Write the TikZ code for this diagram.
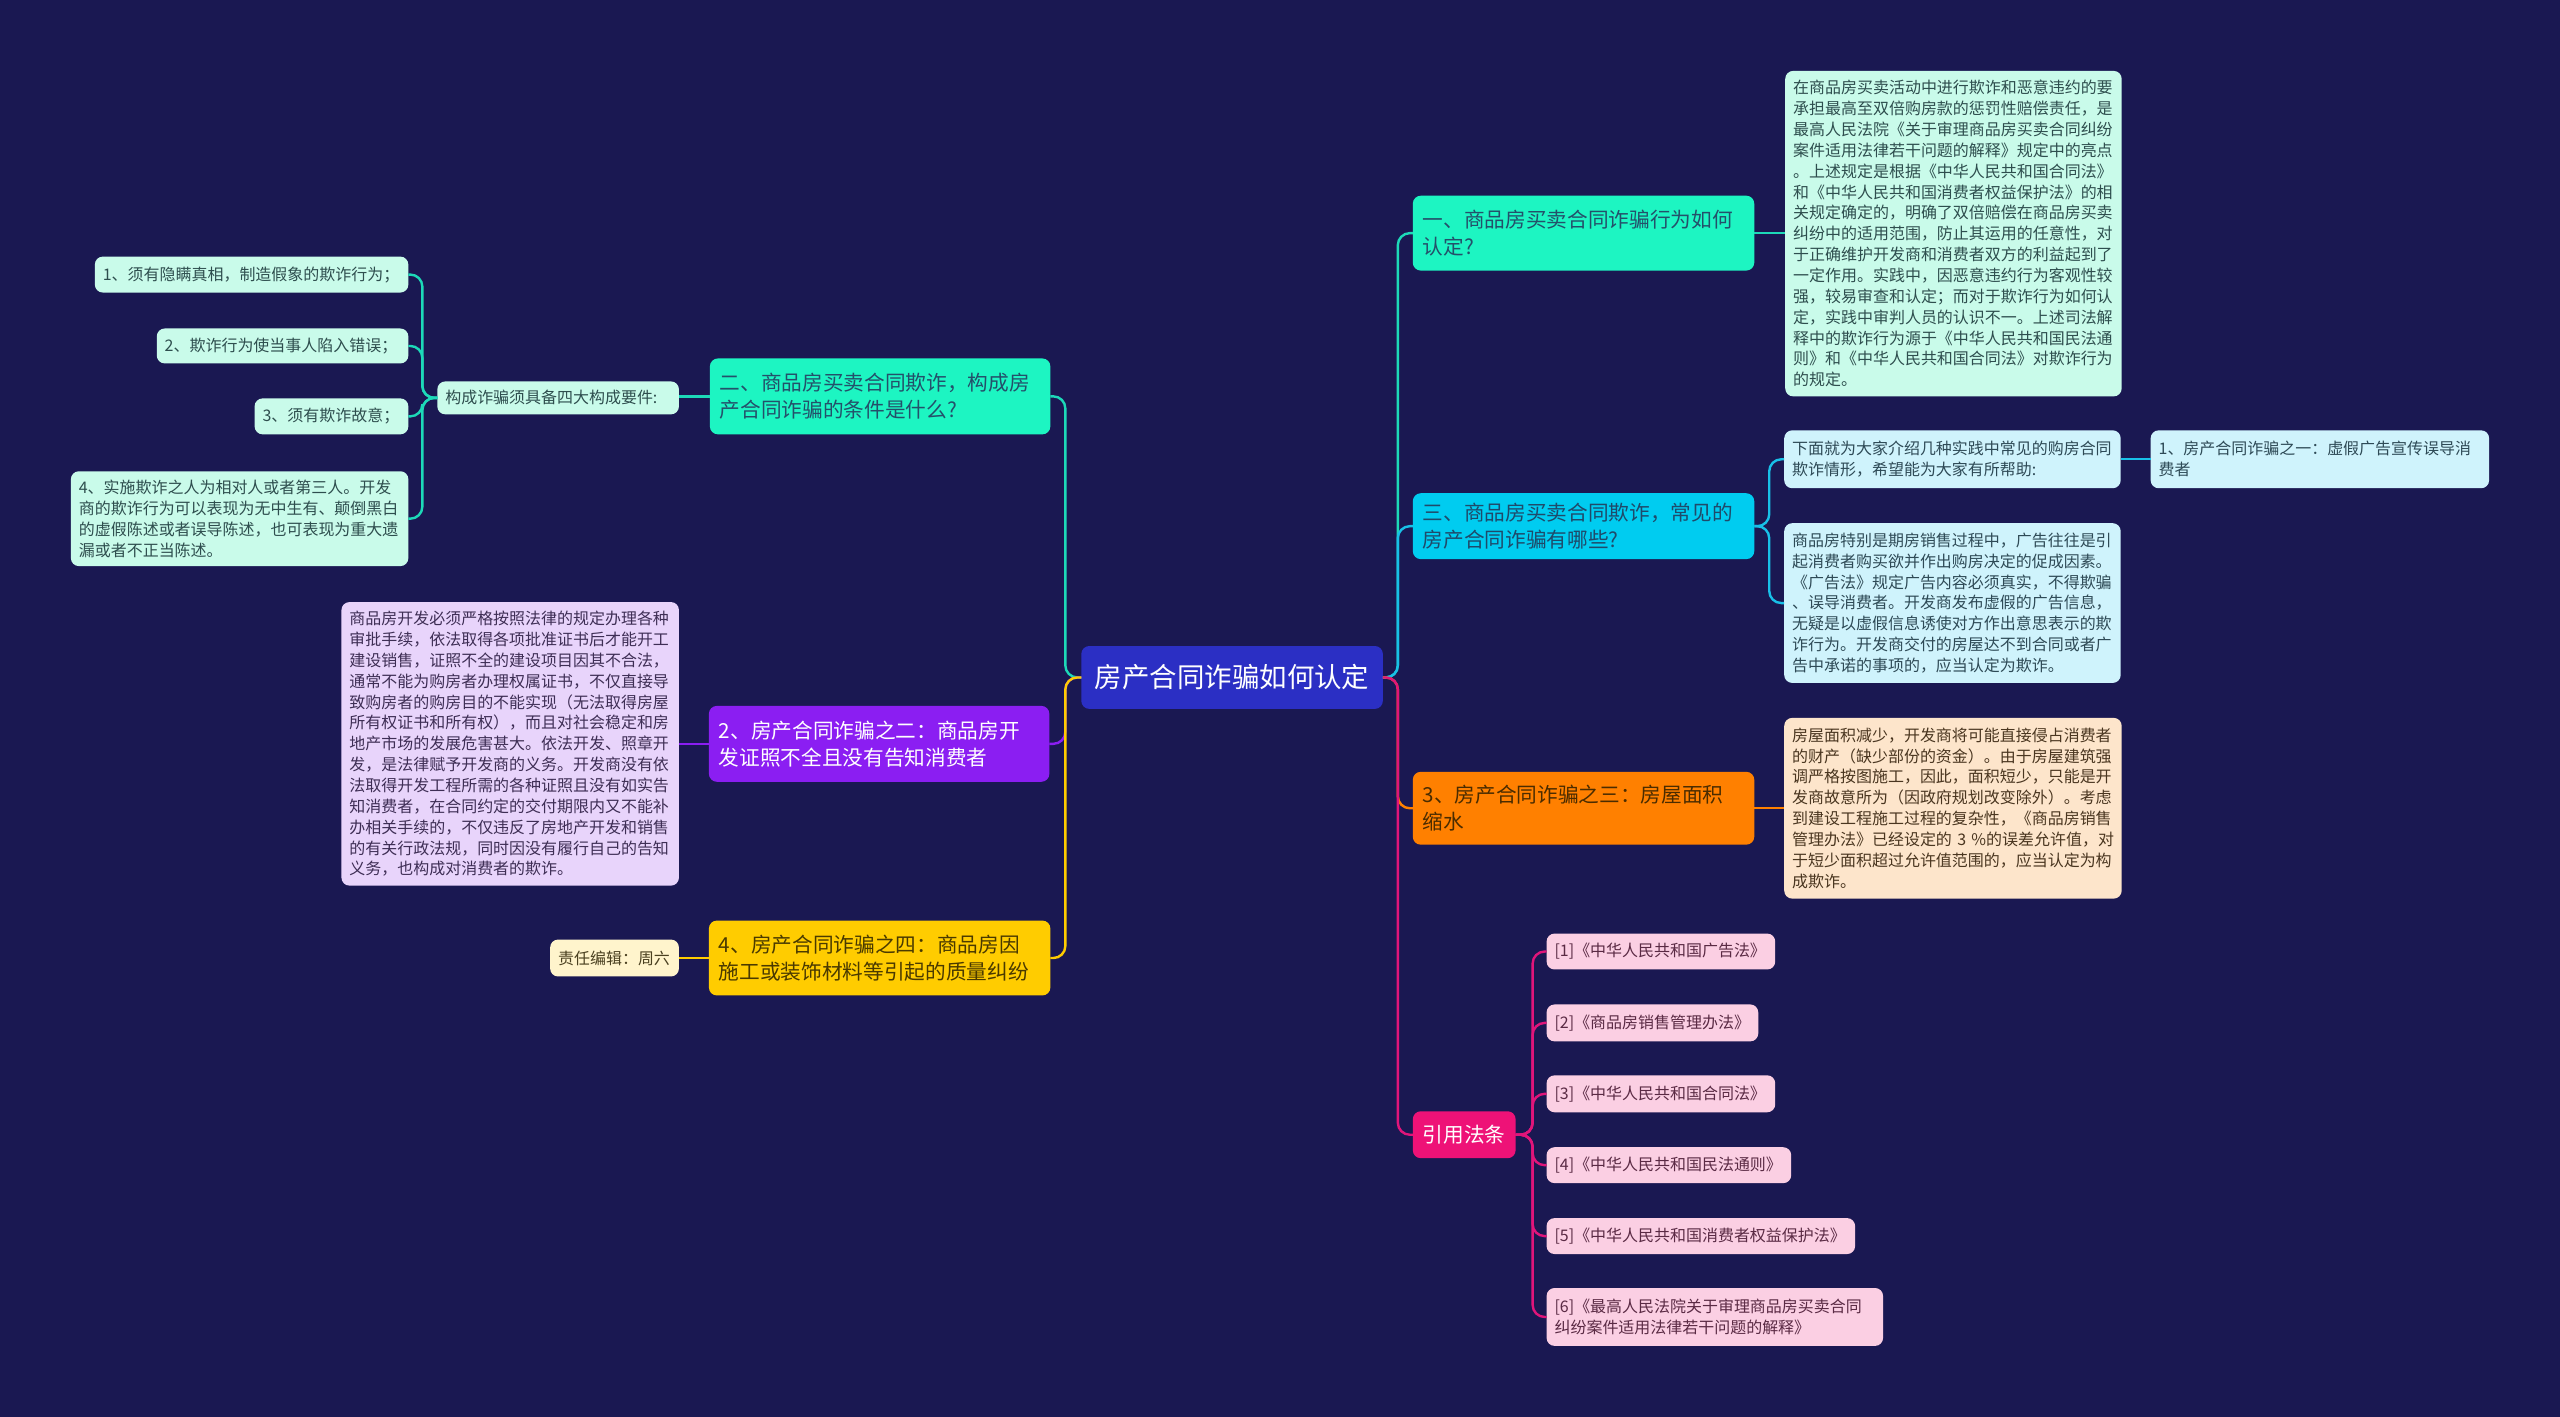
\documentclass[tikz,border=0pt]{standalone}
\usepackage{fontspec}
\setmainfont{Noto Sans CJK SC}
\definecolor{bg}{HTML}{1A1852}
\definecolor{cRoot}{HTML}{2B2FC4}
\definecolor{cAq}{HTML}{1DF5C2}
\definecolor{tAq}{HTML}{24506A}
\definecolor{cCy}{HTML}{00CCF0}
\definecolor{tCy}{HTML}{1F4A6A}
\definecolor{cOr}{HTML}{FF8000}
\definecolor{tOr}{HTML}{4A2C00}
\definecolor{cPu}{HTML}{8B1EF2}
\definecolor{cYe}{HTML}{FFCC00}
\definecolor{tYe}{HTML}{4A3A00}
\definecolor{cPk}{HTML}{EE1277}
\definecolor{lAq}{HTML}{C9FBEA}
\definecolor{tlAq}{HTML}{2E4E4E}
\definecolor{lCy}{HTML}{CFF3FC}
\definecolor{tlCy}{HTML}{2E4A56}
\definecolor{lOr}{HTML}{FDE5CB}
\definecolor{tlOr}{HTML}{4A3620}
\definecolor{lLi}{HTML}{E8D4FB}
\definecolor{tlLi}{HTML}{3E2E55}
\definecolor{lYe}{HTML}{FFF4CC}
\definecolor{tlYe}{HTML}{4A4020}
\definecolor{lPk}{HTML}{FBCFE3}
\definecolor{tlPk}{HTML}{5A2A44}
\definecolor{kAq}{HTML}{1DD9B8}
\definecolor{kCy}{HTML}{18C0E8}
\definecolor{kPk}{HTML}{E0157A}
\begin{document}
\begin{tikzpicture}[x=0.5pt,y=-0.5pt,
  base/.style={rounded corners=4pt, inner ysep=0pt, outer sep=0pt, align=left, anchor=north west},
  small/.style={base, font=\fontsize{8}{10.45}\selectfont, inner xsep=4pt},
  big/.style={base, font=\fontsize{10.35}{13.5}\selectfont, inner xsep=5pt},
  ln/.style={line width=1.2pt, rounded corners=6pt}]
\fill[bg] (-2,-2) rectangle (2562,1417);
\useasboundingbox (0,0) rectangle (2560,1415);

% root
\node[rounded corners=4pt, fill=cRoot, text=white, minimum width=151pt, minimum height=31.5pt, inner sep=0pt, outer sep=0pt, font=\fontsize{13.75}{16}\selectfont] (root) at (1232,676.5) {房产合同诈骗如何认定};

% right side
\node[big, fill=cAq, text=tAq, minimum width=171pt, minimum height=37.5pt, text width=161pt] (b1) at (1413,194) {一、商品房买卖合同诈骗行为如何\\认定?};
\node[small, fill=lAq, text=tlAq, minimum width=168.5pt, minimum height=163pt, text width=160.5pt] (d1) at (1786,69) {在商品房买卖活动中进行欺诈和恶意违约的要\\承担最高至双倍购房款的惩罚性赔偿责任，是\\最高人民法院《关于审理商品房买卖合同纠纷\\案件适用法律若干问题的解释》规定中的亮点\\。上述规定是根据《中华人民共和国合同法》\\和《中华人民共和国消费者权益保护法》的相\\关规定确定的，明确了双倍赔偿在商品房买卖\\纠纷中的适用范围，防止其运用的任意性，对\\于正确维护开发商和消费者双方的利益起到了\\一定作用。实践中，因恶意违约行为客观性较\\强，较易审查和认定；而对于欺诈行为如何认\\定，实践中审判人员的认识不一。上述司法解\\释中的欺诈行为源于《中华人民共和国民法通\\则》和《中华人民共和国合同法》对欺诈行为\\的规定。};

\node[big, fill=cCy, text=tCy, minimum width=171pt, minimum height=33pt, text width=161pt] (b3) at (1413,492) {三、商品房买卖合同欺诈，常见的\\房产合同诈骗有哪些?};
\node[small, fill=lCy, text=tlCy, minimum width=168.5pt, minimum height=29pt, text width=160.5pt] (c3a) at (1785,429) {下面就为大家介绍几种实践中常见的购房合同\\欺诈情形，希望能为大家有所帮助:};
\node[small, fill=lCy, text=tlCy, minimum width=169.5pt, minimum height=29pt, text width=161.5pt] (c3aa) at (2152,429) {1、房产合同诈骗之一：虚假广告宣传误导消\\费者};
\node[small, fill=lCy, text=tlCy, minimum width=168.5pt, minimum height=80pt, text width=160.5pt] (c3b) at (1785,522) {商品房特别是期房销售过程中，广告往往是引\\起消费者购买欲并作出购房决定的促成因素。\\《广告法》规定广告内容必须真实，不得欺骗\\、误导消费者。开发商发布虚假的广告信息，\\无疑是以虚假信息诱使对方作出意思表示的欺\\诈行为。开发商交付的房屋达不到合同或者广\\告中承诺的事项的，应当认定为欺诈。};

\node[big, fill=cOr, text=tOr, minimum width=171pt, minimum height=36.5pt, text width=161pt] (b4) at (1413,771) {3、房产合同诈骗之三：房屋面积\\缩水};
\node[small, fill=lOr, text=tlOr, minimum width=169pt, minimum height=90.5pt, text width=161pt] (d4) at (1785,717) {房屋面积减少，开发商将可能直接侵占消费者\\的财产（缺少部份的资金）。由于房屋建筑强\\调严格按图施工，因此，面积短少，只能是开\\发商故意所为（因政府规划改变除外）。考虑\\到建设工程施工过程的复杂性，《商品房销售\\管理办法》已经设定的~3~\%的误差允许值，对\\于短少面积超过允许值范围的，应当认定为构\\成欺诈。};

\node[base, anchor=center, align=center, fill=cPk, text=white, minimum width=51.5pt, minimum height=23.5pt, inner sep=0pt, font=\fontsize{10.35}{13.5}\selectfont] (refs) at (1464.5,1134.5) {引用法条};
\node[small, fill=lPk, text=tlPk, minimum width=114.5pt, minimum height=18pt, text width=106.5pt] (r1) at (1547,933) {[1]《中华人民共和国广告法》};
\node[small, fill=lPk, text=tlPk, minimum width=106pt, minimum height=18.5pt, text width=98pt] (r2) at (1547,1004) {[2]《商品房销售管理办法》};
\node[small, fill=lPk, text=tlPk, minimum width=114.5pt, minimum height=18.5pt, text width=106.5pt] (r3) at (1547,1075) {[3]《中华人民共和国合同法》};
\node[small, fill=lPk, text=tlPk, minimum width=122.5pt, minimum height=18pt, text width=114.5pt] (r4) at (1547,1147) {[4]《中华人民共和国民法通则》};
\node[small, fill=lPk, text=tlPk, minimum width=154.5pt, minimum height=18pt, text width=146.5pt] (r5) at (1547,1218) {[5]《中华人民共和国消费者权益保护法》};
\node[small, fill=lPk, text=tlPk, minimum width=168.5pt, minimum height=29pt, text width=160.5pt] (r6) at (1547,1288) {[6]《最高人民法院关于审理商品房买卖合同\\纠纷案件适用法律若干问题的解释》};

% left side
\node[big, fill=cAq, text=tAq, minimum width=170.5pt, minimum height=38pt, text width=160.5pt] (b2) at (709,357) {二、商品房买卖合同欺诈，构成房\\产合同诈骗的条件是什么?};
\node[small, fill=lAq, text=tlAq, minimum width=121pt, minimum height=16.5pt, text width=113pt] (k) at (436,380) {构成诈骗须具备四大构成要件:};
\node[small, fill=lAq, text=tlAq, minimum width=157pt, minimum height=18pt, text width=149pt] (i1) at (93,255) {1、须有隐瞒真相，制造假象的欺诈行为；};
\node[small, fill=lAq, text=tlAq, minimum width=126pt, minimum height=17.5pt, text width=118pt] (i2) at (155,327) {2、欺诈行为使当事人陷入错误；};
\node[small, fill=lAq, text=tlAq, minimum width=77pt, minimum height=18pt, text width=69pt] (i3) at (253,397) {3、须有欺诈故意；};
\node[small, fill=lAq, text=tlAq, minimum width=169pt, minimum height=47.5pt, text width=161pt] (i4) at (69,470) {4、实施欺诈之人为相对人或者第三人。开发\\商的欺诈行为可以表现为无中生有、颠倒黑白\\的虚假陈述或者误导陈述，也可表现为重大遗\\漏或者不正当陈述。};

\node[big, fill=cPu, text=white, minimum width=170.5pt, minimum height=38pt, text width=160.5pt] (p) at (708,705) {2、房产合同诈骗之二：商品房开\\发证照不全且没有告知消费者};
\node[small, fill=lLi, text=tlLi, minimum width=169pt, minimum height=142pt, text width=161pt] (lil) at (340,601) {商品房开发必须严格按照法律的规定办理各种\\审批手续，依法取得各项批准证书后才能开工\\建设销售，证照不全的建设项目因其不合法，\\通常不能为购房者办理权属证书，不仅直接导\\致购房者的购房目的不能实现（无法取得房屋\\所有权证书和所有权），而且对社会稳定和房\\地产市场的发展危害甚大。依法开发、照章开\\发，是法律赋予开发商的义务。开发商没有依\\法取得开发工程所需的各种证照且没有如实告\\知消费者，在合同约定的交付期限内又不能补\\办相关手续的，不仅违反了房地产开发和销售\\的有关行政法规，同时因没有履行自己的告知\\义务，也构成对消费者的欺诈。};

\node[big, fill=cYe, text=tYe, minimum width=171pt, minimum height=37.5pt, text width=161pt] (yb) at (708,920) {4、房产合同诈骗之四：商品房因\\施工或装饰材料等引起的质量纠纷};
\node[small, fill=lYe, text=tlYe, minimum width=64.5pt, minimum height=18.5pt, text width=56.5pt] (ed) at (549,939) {责任编辑：周六};

% spines
\coordinate (Ls) at (1065,676.5);
\coordinate (Rs) at (1398,676.5);
\coordinate (s3) at (1770,525);
\coordinate (sr) at (1533,1134.5);
\coordinate (sk) at (421,396.5);

% connectors right
\draw[ln, kAq] (root.east) -- (Rs) |- (b1.west);
\draw[ln, kCy] (root.east) -- (Rs) |- (b3.west);
\draw[ln, cOr] (root.east) -- (Rs) |- (b4.west);
\draw[ln, kPk] (root.east) -- (Rs) |- (refs.west);
\draw[ln, kAq] (b1.east) -- (b1.east -| d1.west);
\draw[ln, kCy] (b3.east) -- (s3) |- (c3a.west);
\draw[ln, kCy] (b3.east) -- (s3) |- (c3b.west);
\draw[ln, kCy] (c3a.east) -- (c3aa.west);
\draw[ln, cOr] (b4.east) -- (b4.east -| d4.west);
\foreach \r in {r1,r2,r3,r4,r5,r6} {\draw[ln, kPk] (refs.east) -- (sr) |- (\r.west);}

% connectors left
\draw[ln, kAq] (root.west) -- (Ls) |- (b2.east);
\draw[ln, cPu] (root.west) -- (Ls) |- (p.east);
\draw[ln, cYe] (root.west) -- (Ls) |- (yb.east);
\draw[ln, kAq] (b2.west) -- (b2.west -| k.east);
\foreach \i in {i1,i2,i3,i4} {\draw[ln, kAq] (k.west) -- (sk) |- (\i.east);}
\draw[ln, cPu] (p.west) -- (p.west -| lil.east);
\draw[ln, cYe] (yb.west) -- (yb.west -| ed.east);
\end{tikzpicture}
\end{document}
